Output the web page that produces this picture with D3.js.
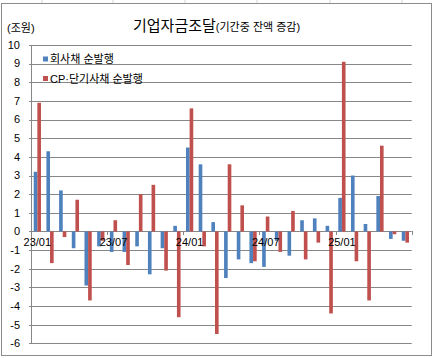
<!DOCTYPE html>
<html>
<head>
<meta charset="utf-8">
<script src="https://cdn.jsdelivr.net/npm/d3@7"></script>
<style>
  html, body { margin: 0; padding: 0; background: #fff; }
  svg { display: block; }
  text { font-family: "Liberation Sans", "Noto Sans CJK KR", sans-serif; fill: #000; }
</style>
</head>
<body>
<script>
// ---- data ----
const months = [
  "23/01","23/02","23/03","23/04","23/05","23/06","23/07","23/08","23/09","23/10","23/11","23/12",
  "24/01","24/02","24/03","24/04","24/05","24/06","24/07","24/08","24/09","24/10","24/11","24/12",
  "25/01","25/02","25/03","25/04","25/05","25/06"
];
const corpBond = [3.2, 4.3, 2.2, -0.9, -2.9, -0.8, -1.1, -1.1, -0.8, -2.3, -0.9, 0.3,
                  4.5, 3.6, 0.5, -2.5, -1.5, -1.7, -1.9, -0.5, -1.3, 0.6, 0.7, 0.3,
                  1.8, 3.0, 0.4, 1.9, -0.4, -0.5];
const cpShort = [6.9, -1.7, -0.3, 1.7, -3.7, -0.5, 0.6, -1.8, 2.0, 2.5, -2.1, -4.6,
                 6.6, -0.8, -5.5, 3.6, 1.4, -1.6, 0.8, -1.1, 1.1, -1.5, -0.6, -4.4,
                 9.1, -1.6, -3.7, 4.6, -0.15, -0.6];
const seriesNames = ["회사채 순발행", "CP·단기사채 순발행"];
const seriesColors = ["#4F81BD", "#C0504D"];
const yTicks = [10, 9, 8, 7, 6, 5, 4, 3, 2, 1, 0, -1, -2, -3, -4, -5, -6];
const xLabels = ["23/01", "23/07", "24/01", "24/07", "25/01"];

// ---- layout ----
const W = 433, H = 358;
const plot = { left: 31, right: 411.7, top: 45, bottom: 343.3 };

const svg = d3.select("body").append("svg").attr("width", W).attr("height", H);
svg.append("rect").attr("width", W).attr("height", H).attr("fill", "#fff");

// spreadsheet cell lines above the chart
svg.append("g").selectAll("line").data([42, 113, 185, 257, 330, 402]).join("line")
  .attr("x1", d => d).attr("x2", d => d).attr("y1", 0).attr("y2", 3)
  .attr("stroke", "#d4d4d4").attr("stroke-width", 1);

// chart frame
svg.append("rect").attr("x", 1.5).attr("y", 3.5).attr("width", 430).attr("height", 352)
  .attr("fill", "none").attr("stroke", "#8c8c8c").attr("stroke-width", 1);

const y = d3.scaleLinear().domain([-6, 10]).range([plot.bottom, plot.top]);
const x0 = d3.scaleBand().domain(months).range([plot.left, plot.right])
  .paddingInner(1.5 / 3.5).paddingOuter(0.75 / 3.5);
const x1 = d3.scaleBand().domain([0, 1]).range([0, x0.bandwidth()]);
const step = x0.step();
const edge = i => plot.left + i * step;

// gridlines
svg.append("g").selectAll("line").data(yTicks).join("line")
  .attr("x1", plot.left - 2).attr("x2", plot.right)
  .attr("y1", d => Math.round(y(d)) + 0.5).attr("y2", d => Math.round(y(d)) + 0.5)
  .attr("stroke", "#878787").attr("stroke-width", 1);

// vertical axis line
svg.append("line")
  .attr("x1", plot.left + 0.5).attr("x2", plot.left + 0.5)
  .attr("y1", Math.round(y(10)) + 0.5).attr("y2", Math.round(y(-6)) + 0.5)
  .attr("stroke", "#878787");

// y labels
svg.append("g").selectAll("text").data(yTicks).join("text")
  .attr("x", 20).attr("y", d => y(d)).attr("dy", "0.35em")
  .attr("text-anchor", "end").attr("font-size", 11).text(d => d);

// bars
const series = [corpBond, cpShort];
series.forEach((vals, s) => {
  svg.append("g").selectAll("rect").data(vals).join("rect")
    .attr("x", (d, i) => x0(months[i]) + x1(s))
    .attr("width", x1.bandwidth())
    .attr("y", d => y(Math.max(0, d)))
    .attr("height", d => Math.abs(y(d) - y(0)))
    .attr("fill", seriesColors[s]);
});

// zero axis ticks (every 6 months) and labels
const tickIdx = [6, 12, 18, 24, 30];
svg.append("g").selectAll("line").data(tickIdx).join("line")
  .attr("x1", d => Math.round(edge(d)) + 0.5).attr("x2", d => Math.round(edge(d)) + 0.5)
  .attr("y1", Math.round(y(0))).attr("y2", Math.round(y(0)) + 4)
  .attr("stroke", "#878787");

svg.append("g").selectAll("text").data(xLabels).join("text")
  .attr("x", d => x0(d) + x0.bandwidth() / 2)
  .attr("y", y(0) + 15)
  .attr("text-anchor", "middle").attr("font-size", 11).text(d => d);

// unit label
svg.append("text").attr("x", 7).attr("y", 32).attr("font-size", 11).text("(조원)");

// title
const title = svg.append("text").attr("x", 133).attr("y", 31);
title.append("tspan").attr("font-size", 15).text("기업자금조달");
title.append("tspan").attr("font-size", 11).text("(기간중 잔액 증감)");

// legend
const leg = svg.append("g");
seriesNames.forEach((name, s) => {
  const ly = 59 + s * 19.5;
  leg.append("rect").attr("x", 43).attr("y", ly - 2.5).attr("width", 5).attr("height", 5)
    .attr("fill", seriesColors[s]);
  leg.append("text").attr("x", 50).attr("y", ly).attr("dy", "0.38em")
    .attr("font-size", 11).text(name);
});
</script>
</body>
</html>
